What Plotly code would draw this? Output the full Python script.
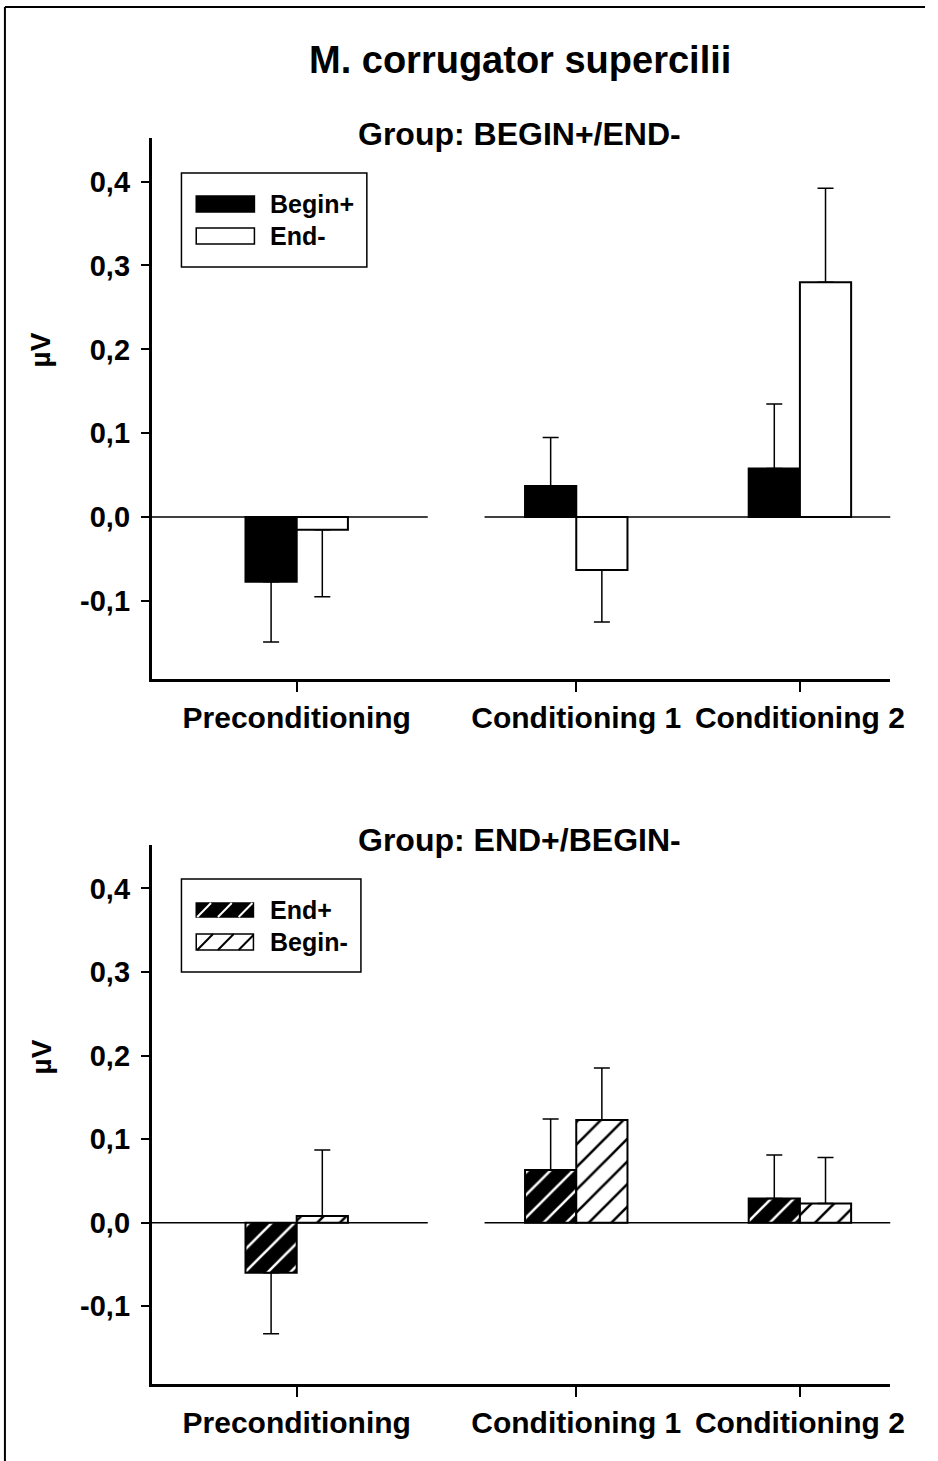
import plotly.graph_objects as go

W, H = 938, 1461

# ---------------- data ----------------
categories = ["Preconditioning", "Conditioning 1", "Conditioning 2"]
x_pos = [1.0, 2.25, 3.25]          # category positions (unequal spacing as in original)

# Group BEGIN+/END-
begin_plus = [-0.077, 0.037, 0.058]
begin_plus_err = [0.072, 0.058, 0.077]
end_minus = [-0.015, -0.063, 0.280]
end_minus_err = [0.080, 0.062, 0.112]

# Group END+/BEGIN-
end_plus = [-0.060, 0.063, 0.029]
end_plus_err = [0.073, 0.061, 0.052]
begin_minus = [0.008, 0.123, 0.023]
begin_minus_err = [0.079, 0.062, 0.055]

y_tickvals = [-0.1, 0.0, 0.1, 0.2, 0.3, 0.4]
y_ticktext = ["-0,1", "0,0", "0,1", "0,2", "0,3", "0,4"]
y_range = [-0.193, 0.452]
x_range = [0.3524, 3.655]

FONT = "Liberation Sans, Arial, sans-serif"


def px(x):
    return x / W


def py(y):
    return 1 - y / H


def err_dict(vals, errs):
    up = [e if v >= 0 else 0 for v, e in zip(vals, errs)]
    dn = [e if v < 0 else 0 for v, e in zip(vals, errs)]
    return dict(type="data", symmetric=False, array=up, arrayminus=dn,
                color="black", thickness=1.5, width=8)


fig = go.Figure()


def add_bar(vals, errs, name, xa, ya, fill, hatch):
    marker = dict(color=fill, line=dict(color="black", width=2))
    if hatch:
        marker["pattern"] = dict(shape="/", size=16, solidity=0.16,
                                 bgcolor=fill,
                                 fgcolor="white" if fill == "black" else "black",
                                 fillmode="replace")
    fig.add_trace(go.Bar(x=x_pos, y=vals, name=name, marker=marker,
                         error_y=err_dict(vals, errs), xaxis=xa, yaxis=ya,
                         showlegend=False))


add_bar(begin_plus, begin_plus_err, "Begin+", "x", "y", "black", False)
add_bar(end_minus, end_minus_err, "End-", "x", "y", "white", False)
add_bar(end_plus, end_plus_err, "End+", "x2", "y2", "black", True)
add_bar(begin_minus, begin_minus_err, "Begin-", "x2", "y2", "white", True)

xaxis_common = dict(range=x_range, tickmode="array", tickvals=x_pos, ticktext=categories,
                    showline=True, linecolor="black", linewidth=3, ticks="outside",
                    ticklen=10, tickwidth=2, tickcolor="black", showgrid=False,
                    zeroline=False, domain=[px(154), px(903)],
                    tickfont=dict(family=FONT, size=30, color="black", weight="bold"),
                    ticklabelstandoff=0)
yaxis_common = dict(range=y_range, tickmode="array", tickvals=y_tickvals, ticktext=y_ticktext,
                    showline=True, linecolor="black", linewidth=3, ticks="outside",
                    ticklen=8, tickwidth=2, tickcolor="black", showgrid=False,
                    zeroline=False,
                    tickfont=dict(family=FONT, size=29, color="black", weight="bold"),
                    ticklabelstandoff=5)

fig.update_layout(
    width=W, height=H, autosize=False,
    margin=dict(l=0, r=0, t=0, b=0),
    paper_bgcolor="white", plot_bgcolor="white",
    barmode="group", bargap=0.542, bargroupgap=0,
    xaxis=dict(**xaxis_common, anchor="y"),
    yaxis=dict(**yaxis_common, domain=[py(679), py(138)], anchor="x"),
    xaxis2=dict(**xaxis_common, anchor="y2"),
    yaxis2=dict(**yaxis_common, domain=[py(1384), py(845)], anchor="x2"),
    showlegend=False,
)

shapes = []
annotations = []

# outer frame (left and top edges visible in the original)
shapes.append(dict(type="line", xref="paper", yref="paper", x0=px(5), x1=px(5),
                   y0=0, y1=py(7), line=dict(color="black", width=2)))
shapes.append(dict(type="line", xref="paper", yref="paper", x0=px(5), x1=1,
                   y0=py(7), y1=py(7), line=dict(color="black", width=2)))

# broken zero lines
for xr, yr in (("x", "y"), ("x2", "y2")):
    shapes.append(dict(type="line", xref=xr, yref=yr, x0=x_range[0], x1=x_pos[0] + 0.586,
                       y0=0, y1=0, line=dict(color="black", width=1.5), layer="below"))
    shapes.append(dict(type="line", xref=xr, yref=yr, x0=x_pos[1] - 0.41, x1=x_range[1],
                       y0=0, y1=0, line=dict(color="black", width=1.5), layer="below"))


def text(t, x, y, size, xanchor="center", angle=0):
    annotations.append(dict(text=t, x=px(x), y=py(y), xref="paper", yref="paper",
                            xanchor=xanchor, yanchor="middle", showarrow=False,
                            textangle=angle,
                            font=dict(family=FONT, size=size, color="black", weight="bold")))


text("M. corrugator supercilii", 527, 60, 38)
text("Group: BEGIN+/END-", 527, 134, 32)
text("Group: END+/BEGIN-", 527, 840, 32)
text("µV", 42, 350, 28, angle=-90)
text("µV", 42, 1057, 28, angle=-90)


# legends (drawn)
def rect(x0, y0, x1, y1, fill, lw=1.5):
    shapes.append(dict(type="rect", xref="paper", yref="paper", x0=px(x0), x1=px(x1),
                       y0=py(y1), y1=py(y0), fillcolor=fill,
                       line=dict(color="black", width=lw)))


def hatch(x0, y0, x1, y1, color):
    h = y1 - y0
    for k in range(3):
        bx = x0 + 1 + k * 21
        tx = min(bx + h, x1)
        ty = y1 - (tx - bx)
        shapes.append(dict(type="line", xref="paper", yref="paper", x0=px(bx), y0=py(y1),
                           x1=px(tx), y1=py(ty), line=dict(color=color, width=2)))


legend_top = [("Begin+", "black"), ("End-", "white")]
legend_bot = [("End+", "black"), ("Begin-", "white")]

rect(184, 173, 372, 267, "white")
for (name, fill), (sy0, sy1) in zip(legend_top, [(196, 212), (228, 244)]):
    rect(199, sy0, 258, sy1, fill)
    text(name, 272, (sy0 + sy1) / 2, 25, xanchor="left")

rect(184, 879, 366, 972, "white")
for (name, fill), (sy0, sy1) in zip(legend_bot, [(903, 917), (934, 950)]):
    rect(199, sy0, 257, sy1, fill)
    hatch(199, sy0, 257, sy1, "white" if fill == "black" else "black")
    text(name, 272, (sy0 + sy1) / 2, 25, xanchor="left")

fig.update_layout(shapes=shapes, annotations=annotations)

fig.write_html(
    "out.html",
    config={"displayModeBar": False},
    post_script=(
        "document.body.style.margin='0';"
        "document.body.style.overflow='hidden';"
        "document.documentElement.style.overflow='hidden';"
    ),
)
